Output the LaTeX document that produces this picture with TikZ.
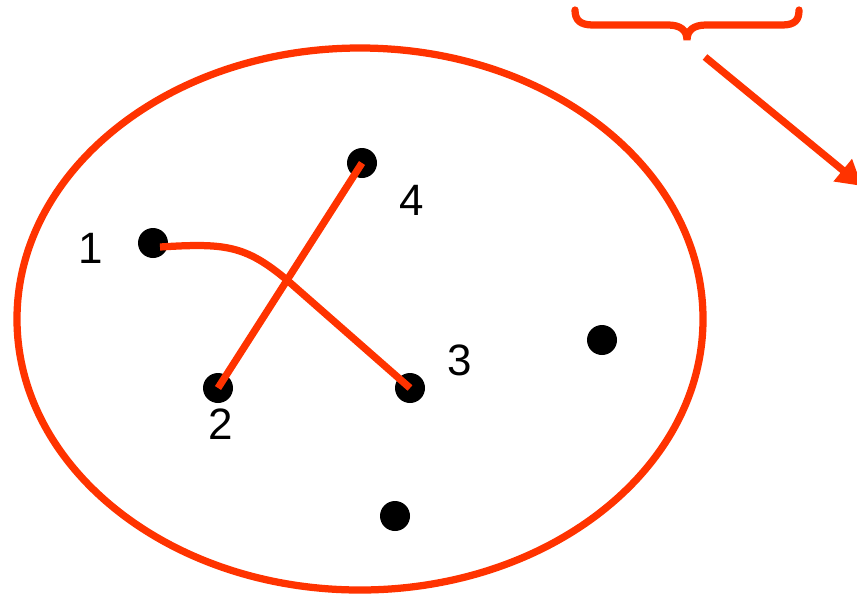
\documentclass[tikz,border=0pt]{standalone}
\usepackage{fontspec}
\setmainfont{Liberation Sans}
\usetikzlibrary{arrows.meta}

\definecolor{setred}{HTML}{FF3300}

\begin{document}
\begin{tikzpicture}[x=0.02cm, y=-0.02cm,
  dot/.style={circle, fill=black, inner sep=0pt, minimum width=0.6cm},
  lbl/.style={font=\fontsize{25}{30}\selectfont},
  link/.style={draw=setred, line width=0.145cm}]

% Picture frame
\clip (0,0) rectangle (857,596);
\useasboundingbox (0,0) rectangle (857,596);

% The set
\draw[link] (360,319) ellipse [x radius=343, y radius=-271];

% Points of the set
\node[dot] (d1) at (153,243) {};
\node[dot] (d4) at (362,163) {};
\node[dot] (d2) at (218,388) {};
\node[dot] (d3) at (410,388) {};
\node[dot] (d5) at (602,340) {};
\node[dot] (d6) at (395,516) {};

% Labels
\node[lbl] (l1) at (91,248) {1};
\node[lbl] (l4) at (412,200) {4};
\node[lbl] (l3) at (460,360) {3};
\node[lbl] (l2) at (221,424) {2};

% Pairs
\draw[link] (160,247) .. controls (225,243) and (245,245) .. (287,280) -- (d3.center);
\draw[link] (d2.center) -- (d4.center);

% Brace and arrow
\draw[link, line cap=round] (575,10) .. controls (575,20) and (580,25) .. (593,25) -- (668,25)
  .. controls (680,25) and (687,30) .. (687,40)
  .. controls (687,30) and (694,25) .. (706,25) -- (782,25)
  .. controls (795,25) and (799,20) .. (799,10);
\coordinate (from) at (705,57);
\coordinate (to) at (862,186);
\draw[link, -{Triangle[length=0.5cm, width=0.55cm]}] (from) -- (to);

\end{tikzpicture}
\end{document}
